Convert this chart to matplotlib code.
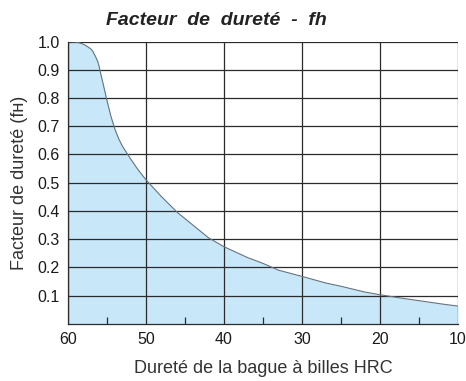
import matplotlib
matplotlib.use("Agg")
import matplotlib.pyplot as plt
from matplotlib.ticker import MultipleLocator

# Hardness factor fH versus raceway hardness (HRC)
hrc = [60, 59, 58.5, 58, 57.5, 57, 56.8, 56.5, 56.2, 56, 55.8, 55.5, 55,
       54.5, 54, 53.5, 53, 52, 51, 50, 48, 46, 44, 42, 40, 37, 35, 33, 30,
       27, 25, 22, 20, 17, 15, 12, 10]
fh = [1.0, 0.998, 0.995, 0.99, 0.982, 0.972, 0.964, 0.948, 0.93, 0.91,
      0.885, 0.85, 0.79, 0.735, 0.69, 0.655, 0.628, 0.585, 0.545, 0.51,
      0.45, 0.395, 0.35, 0.305, 0.273, 0.235, 0.214, 0.19, 0.168, 0.145,
      0.133, 0.113, 0.103, 0.09, 0.082, 0.07, 0.063]

x_ticks = [60, 50, 40, 30, 20, 10]
y_ticks = [0.1, 0.2, 0.3, 0.4, 0.5, 0.6, 0.7, 0.8, 0.9, 1.0]

plt.rcParams['font.family'] = ['Liberation Sans', 'DejaVu Sans']

fig = plt.figure(figsize=(4.66, 3.81), dpi=100)
ax = fig.add_axes([0.146, 0.150, 0.837, 0.741])

ax.fill_between(hrc, fh, 0, color='#c8e7f9', lw=0, zorder=1)
ax.plot(hrc, fh, color='#66737d', lw=0.8, zorder=3)

ax.set_xlim(60, 10)
ax.set_ylim(0, 1.0)
ax.set_xticks(x_ticks)
ax.set_yticks(y_ticks)
ax.set_yticklabels([f"{v:.1f}" for v in y_ticks])
ax.xaxis.set_minor_locator(MultipleLocator(5))

ax.grid(True, which='major', color='#2b2b2b', lw=0.9, zorder=2)
ax.set_axisbelow(False)
for side in ['top', 'right']:
    ax.spines[side].set_visible(False)
for side in ['left', 'bottom']:
    ax.spines[side].set_color('#2b2b2b')
    ax.spines[side].set_linewidth(0.9)

ax.tick_params(axis='both', which='major', length=0, labelsize=11.5,
               labelcolor='#1a1a1a', pad=6)
ax.tick_params(axis='x', which='minor', direction='in', length=5,
               width=0.9, color='#2b2b2b')

ax.set_xlabel("Dureté de la bague à billes HRC", fontsize=13,
              color='#333333', labelpad=9)
ax.set_ylabel("Facteur de dureté (fʜ)", fontsize=13, color='#333333',
              labelpad=7)

fig.text(0.464, 0.947, "Facteur  de  dureté  -  fh", ha='center', va='center',
         fontsize=14, fontweight='bold', fontstyle='italic', color='#222222')

fig.savefig("out.png", dpi=100)
